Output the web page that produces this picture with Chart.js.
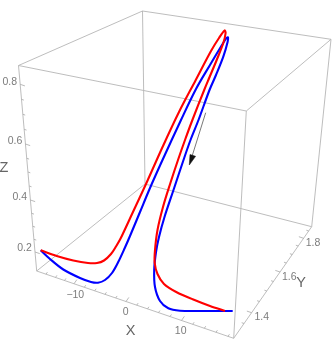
<!DOCTYPE html>
<html>
<head>
<meta charset="utf-8">
<script src="https://cdn.jsdelivr.net/npm/chart.js@4"></script>
<style>
  html, body { margin: 0; padding: 0; background: #fff; }
  canvas { display: block; }
</style>
</head>
<body>
<canvas id="curveChart" width="332" height="351"></canvas>
<script>
// curves
const redX = [40.7, 56.7, 73.3, 88, 97, 104, 111, 116, 120.7, 132.5, 146, 163, 179, 195.5, 211, 219, 224.6, 225.6, 223.3, 216.7, 209.6, 204.2, 192.4, 185, 178, 170.4, 163, 157.5, 155, 154.7, 157.5, 164, 176.7, 193.3, 210, 225];
const redY = [250.3, 256, 260.5, 263, 263, 260.5, 254, 246.5, 238.3, 213, 184, 146, 112, 80.5, 51, 38, 30.5, 33, 43, 60, 77, 90, 120, 140, 160, 183, 207, 230, 250, 263, 274, 284, 292.3, 299.5, 306, 311];
const blueX = [40.7, 50, 63.3, 80, 91, 98, 105, 112, 118.5, 125, 130, 140, 150, 162.5, 181, 196, 210, 220, 226.5, 228, 227.6, 223.3, 216, 209.5, 198.5, 190.5, 183.5, 173.5, 164.5, 159, 156, 154.2, 155, 160, 168.3, 180, 200, 232.7];
const blueY = [250.3, 259, 269.5, 278, 282, 282.7, 280, 273, 261.5, 247.5, 236, 212, 188, 160, 120, 89, 65, 48.3, 38, 37.3, 42, 56.7, 75, 90, 120, 140, 160, 190, 217, 237, 252, 270, 287, 301, 308.3, 310.7, 311, 311];

const arrowX = [205.7, 191.5];
const arrowY = [112.7, 158];
const arrowHeadX = [189.3, 190, 195.6, 189.3];
const arrowHeadY = [165, 154.5, 156.3, 165];

// box corners
const topLeft = [18.5, 65.5], topBack = [142.5, 11], topRight = [331, 39.3], topFront = [246.3, 111];
const botLeft = [36.7, 271], botBack = [145, 184], botRight = [311.7, 226.7], botFront = [233.7, 338.3];
const boxEdges = [
  [topLeft, topBack], [topBack, topRight], [topRight, topFront], [topFront, topLeft],
  [botLeft, botBack], [botBack, botRight], [botRight, botFront], [botFront, botLeft],
  [topLeft, botLeft], [topBack, botBack], [topRight, botRight], [topFront, botFront]
];

// tick positions along each axis edge, majors are the labelled ones
const zTickY = [84.3, 99.3, 114.3, 129.3, 144, 158.3, 172, 186, 200, 213.3, 226.3, 239.3, 252];
const zMajor = [0, 4, 8, 12];
const xTickX = [46, 55.5, 64.5, 74, 84.3, 94.7, 105, 115.7, 126, 136.7, 147.5, 158.5, 170, 181.5, 192.7, 204.3, 216, 228];
const xMajor = [3, 8, 13];
const yTickY = [323.5, 312.7, 301.5, 291, 281.5, 272, 263, 254.5, 246, 238.3, 231];
const yMajor = [1, 5, 9];

const zLabels = ['0.8', '0.6', '0.4', '0.2'];
const zLabelX = [9.7, 15, 19.7, 24.5];
const zLabelY = [81.7, 141.3, 196.7, 248.3];
const xLabels = ['\u221210', '0', '10'];
const xLabelX = [75.3, 125.7, 180.7];
const xLabelY = [295, 312, 330.7];
const yLabels = ['1.4', '1.6', '1.8'];
const yLabelX = [261.7, 289.3, 313];
const yLabelY = [316.7, 276.7, 242.7];
const titles = ['X', 'Y', 'Z'];
const titleX = [130.7, 301, 4];
const titleY = [330.7, 283.3, 168];

const zip = (xs, ys) => xs.map((x, i) => ({ x, y: ys[i] }));

function unit(a, b) {
  const dx = b[0] - a[0], dy = b[1] - a[1], len = Math.hypot(dx, dy);
  return [dx / len, dy / len];
}

// short tick segments starting on an edge, null between them breaks the line
function tickSegments(points, majors, dir) {
  const out = [];
  points.forEach((p, i) => {
    const len = majors.includes(i) ? 5 : 2.5;
    out.push({ x: p[0], y: p[1] }, { x: p[0] + dir[0] * len, y: p[1] + dir[1] * len }, { x: null, y: null });
  });
  return out;
}

const onEdgeByY = (a, b, y) => [a[0] + (b[0] - a[0]) * (y - a[1]) / (b[1] - a[1]), y];
const onEdgeByX = (a, b, x) => [x, a[1] + (b[1] - a[1]) * (x - a[0]) / (b[0] - a[0])];

const zTicks = tickSegments(zTickY.map(y => onEdgeByY(topLeft, botLeft, y)), zMajor, unit(botLeft, botFront));
const xTicks = tickSegments(xTickX.map(x => onEdgeByX(botLeft, botFront, x)), xMajor, unit(botFront, botRight));
const yTicks = tickSegments(yTickY.map(y => onEdgeByY(botFront, botRight, y)), yMajor, unit(botFront, botLeft));

const boxSets = boxEdges.map(e => ({
  data: [{ x: e[0][0], y: e[0][1] }, { x: e[1][0], y: e[1][1] }],
  borderColor: '#b5b5b5', borderWidth: 0.9
}));

const textPlugin = {
  id: 'axisText',
  afterDatasetsDraw(chart) {
    const { ctx, scales } = chart;
    const put = (labels, xs, ys, font) => {
      ctx.font = font;
      labels.forEach((t, i) => ctx.fillText(t, scales.x.getPixelForValue(xs[i]), scales.y.getPixelForValue(ys[i])));
    };
    ctx.save();
    ctx.fillStyle = '#7c7c7c';
    ctx.textAlign = 'center';
    ctx.textBaseline = 'middle';
    const tickFont = '10.5px "Liberation Sans"';
    put(zLabels, zLabelX, zLabelY, tickFont);
    put(xLabels, xLabelX, xLabelY, tickFont);
    put(yLabels, yLabelX, yLabelY, tickFont);
    ctx.fillStyle = '#666';
    put(titles, titleX, titleY, '14.5px "Liberation Sans"');
    ctx.restore();
  }
};

new Chart(document.getElementById('curveChart').getContext('2d'), {
  type: 'scatter',
  data: {
    datasets: [
      { data: zip(redX, redY), borderColor: '#ff0000', borderWidth: 2.1, tension: 0.33 },
      { data: zip(blueX, blueY), borderColor: '#0000ff', borderWidth: 2.1, tension: 0.33 },
      { data: zip(arrowHeadX, arrowHeadY), borderColor: '#111', backgroundColor: '#111', borderWidth: 0.5, fill: 'shape' },
      { data: zip(arrowX, arrowY), borderColor: '#555', borderWidth: 0.8 },
      { data: zTicks, borderColor: '#a8a8a8', borderWidth: 0.8 },
      { data: xTicks, borderColor: '#a8a8a8', borderWidth: 0.8 },
      { data: yTicks, borderColor: '#a8a8a8', borderWidth: 0.8 },
      ...boxSets
    ]
  },
  options: {
    responsive: false,
    animation: false,
    showLine: true,
    spanGaps: false,
    layout: { padding: 0 },
    elements: { point: { radius: 0, hoverRadius: 0 } },
    plugins: { legend: { display: false }, tooltip: { enabled: false } },
    scales: {
      x: { type: 'linear', display: false, min: 0, max: 332 },
      y: { type: 'linear', display: false, min: 0, max: 351, reverse: true }
    }
  },
  plugins: [textPlugin]
});
</script>
</body>
</html>
